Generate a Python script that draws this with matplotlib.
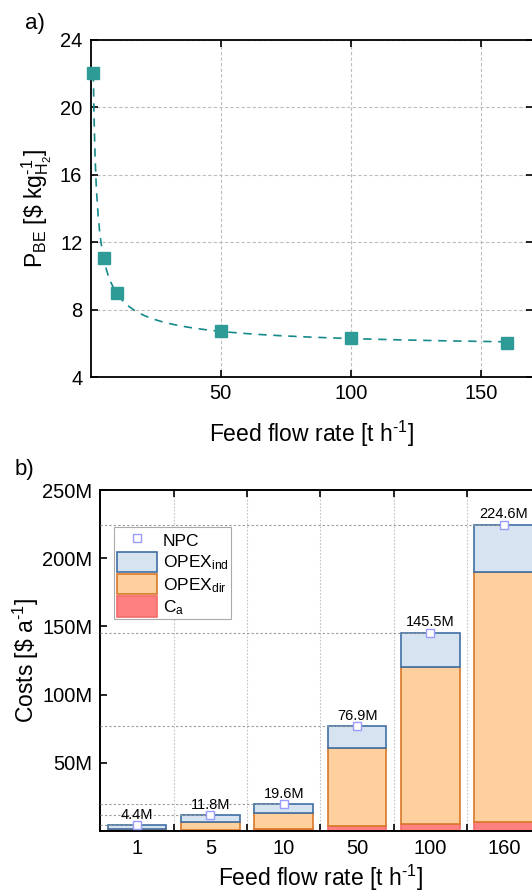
import numpy as np
import matplotlib
matplotlib.use('Agg')
import matplotlib.pyplot as plt
from matplotlib.patches import Patch
from matplotlib.lines import Line2D

plt.rcParams['font.family'] = ['Liberation Sans', 'DejaVu Sans']
plt.rcParams['mathtext.fontset'] = 'custom'
plt.rcParams['mathtext.rm'] = 'Liberation Sans'
plt.rcParams['mathtext.it'] = 'Liberation Sans:italic'
plt.rcParams['mathtext.bf'] = 'Liberation Sans:bold'

# panel a: break-even price vs feed flow rate
flow = [1, 5, 10, 50, 100, 160]
p_be = [22.0, 11.05, 8.98, 6.76, 6.33, 6.06]

# panel b: annual costs (million $ per year)
cat_labels = ['1', '5', '10', '50', '100', '160']
npc = [4.4, 11.8, 19.6, 76.9, 145.5, 224.6]
c_a = [0.4, 1.0, 1.7, 3.7, 5.4, 6.6]
opex_dir = [1.3, 5.6, 11.3, 57.4, 114.9, 183.4]
opex_ind = [n - a - d for n, a, d in zip(npc, c_a, opex_dir)]

teal = '#2e9b97'
line_teal = '#16898a'
HY = '\u2010'  # hyphen used as superscript minus, like the original

fig = plt.figure(figsize=(5.32, 8.96), dpi=100)

# ---------------- a) ----------------
ax1 = fig.add_axes([0.1705, 0.5787, 0.8314, 0.3772])
# power-law trend fitted to the points: y = c + a*x^b
x = np.array(flow, dtype=float)
y = np.array(p_be)
best = None
for b in np.linspace(-1.5, -0.05, 300):
    A = np.vstack([np.ones_like(x), x ** b]).T
    coef, res, _, _ = np.linalg.lstsq(A, y, rcond=None)
    err = np.sum((A @ coef - y) ** 2)
    if best is None or err < best[0]:
        best = (err, b, coef)
_, bexp, (c0, a0) = best
xf = np.linspace(1, 160, 600)
ax1.plot(xf, c0 + a0 * xf ** bexp, color=line_teal, lw=1.2, ls=(0, (5, 4)), zorder=3)
ax1.plot(flow, p_be, ls='none', marker='s', ms=8.5, color=teal, mec=teal, zorder=4, clip_on=False)

ax1.set_xlim(0, 170)
ax1.set_ylim(4, 24)
ax1.set_xticks([50, 100, 150])
ax1.set_yticks([4, 8, 12, 16, 20, 24])
ax1.grid(True, color='#bdbdbd', ls=(0, (3, 2)), lw=0.8)
ax1.set_axisbelow(True)
ax1.tick_params(direction='in', top=True, right=True, length=5, width=1.2,
                labelsize=14.5, pad=5)
ax1.tick_params(axis='y', pad=6)
for s in ax1.spines.values():
    s.set_linewidth(1.3)
ax1.set_xlabel('Feed flow rate [t h$^{' + HY + '1}$]', fontsize=16.5, labelpad=11)
ax1.set_ylabel(r'P$_{\mathrm{BE}}$ [\$ kg$^{' + HY + r'1}_{\mathrm{H_2}}$]', fontsize=16.5, labelpad=4)
fig.text(25 / 532, 1 - 23 / 896, 'a)', fontsize=16, va='center', ha='left')

# ---------------- b) ----------------
ax2 = fig.add_axes([0.1889, 0.0725, 0.827, 0.3806])
pos = np.arange(len(cat_labels))
w = 0.8
bottom_dir = np.array(c_a)
bottom_ind = bottom_dir + np.array(opex_dir)
ax2.bar(pos, c_a, w, color='#ff8080', edgecolor='#f26b6b', lw=1.2, zorder=2)
ax2.bar(pos, opex_dir, w, bottom=bottom_dir, color='#fed09e', edgecolor='#d9782a', lw=1.2, zorder=2)
ax2.bar(pos, opex_ind, w, bottom=bottom_ind, color='#d6e4f1', edgecolor='#3f6fa3', lw=1.2, zorder=2)

for i, v in enumerate(npc):
    ax2.plot([-0.5, i], [v, v], color='#9a9a9a', lw=0.8, ls=(0, (2, 2)), zorder=3)
ax2.plot(pos, npc, ls='none', marker='s', ms=5.5, mfc='white', mec='#9b9bff', mew=1.0, zorder=5)
for i, v in enumerate(npc):
    ax2.annotate(f'{v:.1f}M', (i, v), xytext=(0, 4.5), textcoords='offset points',
                 ha='center', va='baseline', fontsize=10.5, zorder=6)

ax2.set_xlim(-0.5, 5.5)
ax2.set_ylim(0, 250)
ax2.set_xticks(pos)
ax2.set_xticklabels(cat_labels)
ax2.set_xticks(pos[:-1] + 0.5, minor=True)
ax2.set_yticks([50, 100, 150, 200, 250])
ax2.set_yticklabels([f'{t}M' for t in [50, 100, 150, 200, 250]])
ax2.tick_params(axis='x', which='major', length=0, labelsize=14.5, pad=6)
ax2.tick_params(axis='x', which='minor', direction='in', top=True, length=5, width=1.2)
ax2.tick_params(axis='y', direction='in', right=True, length=5, width=1.2, labelsize=14.5, pad=6)
ax2.grid(True, axis='x', which='minor', color='#c4c4c4', ls=(0, (1.5, 1.5)), lw=0.8)
ax2.set_axisbelow(True)
for s in ax2.spines.values():
    s.set_linewidth(1.4)
ax2.set_xlabel('Feed flow rate [t h$^{' + HY + '1}$]', fontsize=16.5, labelpad=3)
ax2.set_ylabel('Costs [\\$ a$^{' + HY + '1}$]', fontsize=16.5, labelpad=1)
fig.text(15 / 532, 1 - 469 / 896, 'b)', fontsize=16, va='center', ha='left')

handles = [
    Line2D([], [], ls='none', marker='s', ms=6, mfc='white', mec='#9b9bff', mew=1.0),
    Patch(facecolor='#d6e4f1', edgecolor='#3f6fa3', lw=1.2),
    Patch(facecolor='#fed09e', edgecolor='#d9782a', lw=1.2),
    Patch(facecolor='#ff8080', edgecolor='#f26b6b', lw=1.2),
]
labels = ['NPC', r'OPEX$_{\mathrm{ind}}$', r'OPEX$_{\mathrm{dir}}$', r'C$_{\mathrm{a}}$']
leg = ax2.legend(handles, labels, loc='upper left', bbox_to_anchor=(0.0307, 0.8915),
                 borderaxespad=0, fontsize=12.5, frameon=True, fancybox=False,
                 edgecolor='#aaaaaa', framealpha=1, handlelength=2.3, handleheight=1.45,
                 labelspacing=0.08, handletextpad=0.35, borderpad=0.15)
leg.get_frame().set_linewidth(0.8)

fig.savefig('out.png', dpi=100)
